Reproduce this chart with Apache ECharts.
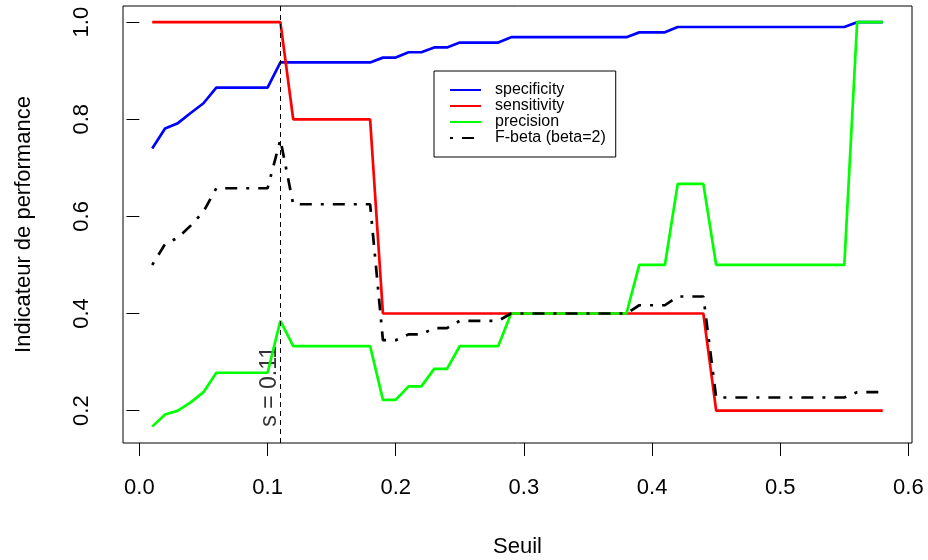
<!DOCTYPE html>
<html>
<head>
<meta charset="utf-8">
<script src="https://cdn.jsdelivr.net/npm/echarts@6.0.0/dist/echarts.min.js"></script>
<style>
  html, body { margin: 0; padding: 0; background: #fff; }
  #chart { width: 928px; height: 560px; }
</style>
</head>
<body>
<div id="chart"></div>
<script>
// ---- Data ----
var seuil = [0.01,0.02,0.03,0.04,0.05,0.06,0.07,0.08,0.09,0.10,
             0.11,0.12,0.13,0.14,0.15,0.16,0.17,0.18,0.19,0.20,
             0.21,0.22,0.23,0.24,0.25,0.26,0.27,0.28,0.29,0.30,
             0.31,0.32,0.33,0.34,0.35,0.36,0.37,0.38,0.39,0.40,
             0.41,0.42,0.43,0.44,0.45,0.46,0.47,0.48,0.49,0.50,
             0.51,0.52,0.53,0.54,0.55,0.56,0.57,0.58];

var specificity = [0.740,0.781,0.792,0.813,0.833,0.865,0.865,0.865,0.865,0.865,
                   0.917,0.917,0.917,0.917,0.917,0.917,0.917,0.917,0.927,0.927,
                   0.938,0.938,0.948,0.948,0.958,0.958,0.958,0.958,0.969,0.969,
                   0.969,0.969,0.969,0.969,0.969,0.969,0.969,0.969,0.979,0.979,
                   0.979,0.990,0.990,0.990,0.990,0.990,0.990,0.990,0.990,0.990,
                   0.990,0.990,0.990,0.990,0.990,1.000,1.000,1.000];

var sensitivity = [1.0,1.0,1.0,1.0,1.0,1.0,1.0,1.0,1.0,1.0,
                   1.0,0.8,0.8,0.8,0.8,0.8,0.8,0.8,0.4,0.4,
                   0.4,0.4,0.4,0.4,0.4,0.4,0.4,0.4,0.4,0.4,
                   0.4,0.4,0.4,0.4,0.4,0.4,0.4,0.4,0.4,0.4,
                   0.4,0.4,0.4,0.4,0.2,0.2,0.2,0.2,0.2,0.2,
                   0.2,0.2,0.2,0.2,0.2,0.2,0.2,0.2];

var precision = [0.167,0.192,0.200,0.217,0.238,0.278,0.278,0.278,0.278,0.278,
                 0.385,0.333,0.333,0.333,0.333,0.333,0.333,0.333,0.222,0.222,
                 0.250,0.250,0.286,0.286,0.333,0.333,0.333,0.333,0.400,0.400,
                 0.400,0.400,0.400,0.400,0.400,0.400,0.400,0.400,0.500,0.500,
                 0.500,0.667,0.667,0.667,0.500,0.500,0.500,0.500,0.500,0.500,
                 0.500,0.500,0.500,0.500,0.500,1.000,1.000,1.000];

var fbeta = [0.500,0.543,0.556,0.581,0.610,0.658,0.658,0.658,0.658,0.658,
             0.758,0.625,0.625,0.625,0.625,0.625,0.625,0.625,0.345,0.345,
             0.357,0.357,0.370,0.370,0.385,0.385,0.385,0.385,0.400,0.400,
             0.400,0.400,0.400,0.400,0.400,0.400,0.400,0.400,0.417,0.417,
             0.417,0.435,0.435,0.435,0.227,0.227,0.227,0.227,0.227,0.227,
             0.227,0.227,0.227,0.227,0.227,0.238,0.238,0.238];

var xTicks = [0.0, 0.1, 0.2, 0.3, 0.4, 0.5, 0.6];
var yTicks = [0.2, 0.4, 0.6, 0.8, 1.0];
var seriesNames = ['specificity', 'sensitivity', 'precision', 'F-beta (beta=2)'];
var threshold = 0.11;
var annotText = 's = 0.11';

// ---- Chart ----
var FONT = 'Liberation Sans, Arial, Helvetica, sans-serif';
function pairs(ys) { return seuil.map(function (x, i) { return [x, ys[i]]; }); }

var chart = echarts.init(document.getElementById('chart'), null, { renderer: 'canvas' });

var LW = 2.7;
var option = {
  animation: false,
  backgroundColor: '#ffffff',
  textStyle: { fontFamily: FONT },
  grid: {
    left: 123, right: 16, top: 6, bottom: 117,
    outerBoundsMode: 'none',
    containLabel: false,
    show: true, borderColor: '#000', borderWidth: 1, backgroundColor: 'transparent'
  },
  legend: {
    data: seriesNames,
    orient: 'vertical',
    left: 434, top: 71,
    padding: [11, 10, 11, 15],
    itemGap: 0,
    itemWidth: 31,
    itemHeight: 16,
    borderColor: '#000',
    borderWidth: 1,
    borderRadius: 0,
    selectedMode: false,
    itemStyle: { opacity: 0 },
    textStyle: { fontFamily: FONT, fontSize: 16, color: '#000', lineHeight: 16, padding: [0, 0, 0, 9] }
  },
  xAxis: {
    type: 'value',
    min: -0.0128, max: 0.6028,
    name: 'Seuil',
    nameLocation: 'middle',
    nameGap: 93,
    nameTextStyle: { fontFamily: FONT, fontSize: 22, color: '#000' },
    axisLine: { show: false },
    axisTick: { show: true, customValues: xTicks, length: 13, lineStyle: { color: '#000', width: 1 } },
    axisLabel: {
      customValues: xTicks, margin: 34, fontSize: 22, color: '#000', fontFamily: FONT,
      formatter: function (v) { return v.toFixed(1); }
    },
    splitLine: { show: false }
  },
  yAxis: {
    type: 'value',
    min: 0.1333, max: 1.0333,
    name: 'Indicateur de performance',
    nameLocation: 'middle',
    nameRotate: 90,
    nameGap: 88,
    nameTextStyle: { fontFamily: FONT, fontSize: 22, color: '#000' },
    axisLine: { show: false },
    axisTick: { show: true, customValues: yTicks, length: 13, lineStyle: { color: '#000', width: 1 } },
    axisLabel: {
      customValues: yTicks, margin: 30, fontSize: 22, color: '#000', fontFamily: FONT, rotate: 90,
      formatter: function (v) { return v.toFixed(1); }
    },
    splitLine: { show: false }
  },
  series: [
    {
      name: seriesNames[0], type: 'line', data: pairs(specificity), symbol: 'none',
      lineStyle: { color: '#0000ff', width: LW }, itemStyle: { color: '#0000ff' }
    },
    {
      name: seriesNames[1], type: 'line', data: pairs(sensitivity), symbol: 'none',
      lineStyle: { color: '#ff0000', width: LW }, itemStyle: { color: '#ff0000' }
    },
    {
      name: seriesNames[2], type: 'line', data: pairs(precision), symbol: 'none',
      lineStyle: { color: '#00ff00', width: LW }, itemStyle: { color: '#00ff00' }
    },
    {
      name: seriesNames[3], type: 'line', data: pairs(fbeta), symbol: 'none',
      lineStyle: { color: '#000000', width: LW, type: [3, 9, 12, 9], cap: 'butt' },
      itemStyle: { color: '#000000' },
      markLine: {
        silent: true, symbol: 'none', animation: false,
        label: { show: false },
        lineStyle: { color: '#000', width: 1, type: [5, 4] },
        data: [{ xAxis: threshold }]
      }
    },
    {
      name: 'annotation', type: 'scatter', data: [[0.102, 0.25]], symbolSize: 0, silent: true,
      label: {
        show: true, position: 'inside', rotate: 90, formatter: annotText,
        fontSize: 23, color: '#000', fontFamily: FONT
      },
      z: 1
    }
  ]
};

chart.setOption(option);
</script>
</body>
</html>
